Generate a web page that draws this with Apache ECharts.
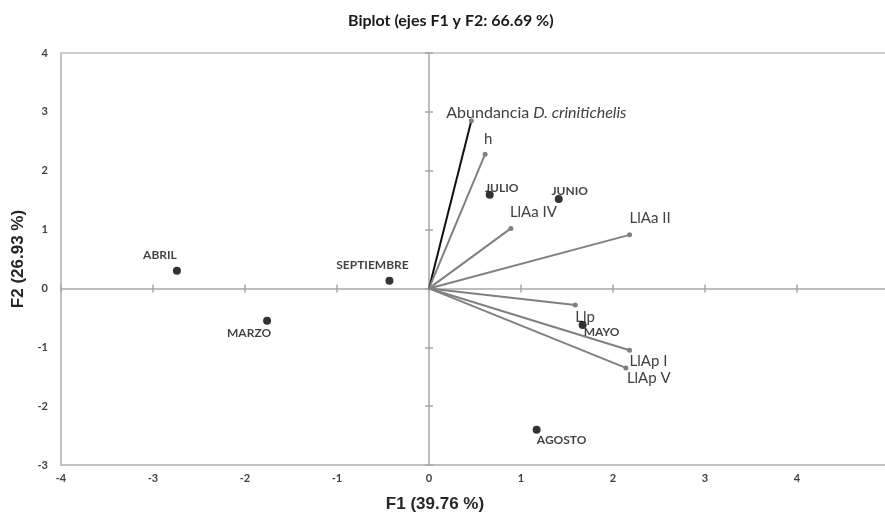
<!DOCTYPE html>
<html>
<head>
<meta charset="utf-8">
<script src="https://cdn.jsdelivr.net/npm/echarts@6/dist/echarts.min.js"></script>
<style>html,body{margin:0;padding:0;background:#fff}#c{width:885px;height:519px}</style>
</head>
<body>
<div id="c"></div>
<script>
// ---- data ----
const vectorNames = ['Abundancia D. crinitichelis', 'h', 'LlAa IV', 'LlAa II', 'Llp', 'LlAp I', 'LlAp V'];
const vectorF1 = [0.46, 0.61, 0.89, 2.18, 1.59, 2.18, 2.14];
const vectorF2 = [2.85, 2.28, 1.02, 0.91, -0.28, -1.05, -1.35];
const monthNames = ['ABRIL', 'MARZO', 'SEPTIEMBRE', 'JULIO', 'JUNIO', 'MAYO', 'AGOSTO'];
const monthF1 = [-2.74, -1.76, -0.43, 0.66, 1.41, 1.67, 1.17];
const monthF2 = [0.30, -0.55, 0.13, 1.59, 1.52, -0.62, -2.40];
const xTicks = [-4, -3, -2, -1, 0, 1, 2, 3, 4, 5];
const yTicks = [-3, -2, -1, 0, 1, 2, 3, 4];
const titleText = 'Biplot (ejes F1 y F2: 66.69 %)';
const xTitle = 'F1 (39.76 %)';
const yTitle = 'F2 (26.93 %)';

// ---- layout / style (not data) ----
const vecLabelOffset = {
  'Abundancia D. crinitichelis': [-25, -8],
  'h': [-1, -15],
  'LlAa IV': [-1, -16],
  'LlAa II': [0, -17],
  'Llp': [0, 12],
  'LlAp I': [0, 11],
  'LlAp V': [1, 10]
};
const monthLabelOffset = {
  'ABRIL': [-17, -16], 'MARZO': [-18, 12], 'SEPTIEMBRE': [-17, -16],
  'JULIO': [12, -7], 'JUNIO': [11, -8], 'MAYO': [19, 7], 'AGOSTO': [25, 10]
};
const FONT = 'Lato';
const xMin = xTicks[0], xMax = xTicks[xTicks.length - 1];
const yMin = yTicks[0], yMax = yTicks[yTicks.length - 1];

const chart = echarts.init(document.getElementById('c'), null, {renderer: 'canvas'});

const baseAxis = (min, max) => ({
  type: 'value', min: min, max: max, interval: 1,
  splitLine: {show: false}
});

const xAxes = [
  Object.assign(baseAxis(xMin, xMax), {
    position: 'bottom',
    name: xTitle, nameLocation: 'middle', nameGap: 31,
    nameTextStyle: {fontFamily: 'Liberation Sans', fontWeight: 'bold', fontSize: 17, color: '#262626', padding: [0, 80, 0, 0]},
    axisLine: {show: true, onZero: false, lineStyle: {color: '#bfbfbf', width: 1.5}},
    axisTick: {show: false},
    axisLabel: {show: true, margin: 8, fontFamily: FONT, fontWeight: 'bold', fontSize: 11, color: '#404040',
      formatter: v => String(v)}
  }),
  Object.assign(baseAxis(xMin, xMax), {
    axisLine: {show: true, onZero: true, onZeroAxisIndex: 0, lineStyle: {color: '#a6a6a6', width: 1.5}},
    axisTick: {show: true, inside: false, length: 4, lineStyle: {color: '#a6a6a6', width: 1.5}},
    axisLabel: {show: false}
  }),
  Object.assign(baseAxis(xMin, xMax), {
    axisLine: {show: false, onZero: true, onZeroAxisIndex: 0},
    axisTick: {show: true, inside: true, length: 4, lineStyle: {color: '#a6a6a6', width: 1.5}},
    axisLabel: {show: false}
  })
];
const yAxes = [
  Object.assign(baseAxis(yMin, yMax), {
    position: 'left',
    name: yTitle, nameLocation: 'middle', nameGap: 28, nameRotate: 90,
    nameTextStyle: {fontFamily: 'Liberation Sans', fontWeight: 'bold', fontSize: 17, color: '#262626'},
    axisLine: {show: true, onZero: false, lineStyle: {color: '#bfbfbf', width: 1.5}},
    axisTick: {show: false},
    axisLabel: {show: true, margin: 13, fontFamily: FONT, fontWeight: 'bold', fontSize: 11, color: '#404040'}
  }),
  Object.assign(baseAxis(yMin, yMax), {
    axisLine: {show: true, onZero: true, onZeroAxisIndex: 0, lineStyle: {color: '#a6a6a6', width: 1.5}},
    axisTick: {show: true, inside: false, length: 4, lineStyle: {color: '#a6a6a6', width: 1.5}},
    axisLabel: {show: false}
  }),
  Object.assign(baseAxis(yMin, yMax), {
    axisLine: {show: false, onZero: true, onZeroAxisIndex: 0},
    axisTick: {show: true, inside: true, length: 4, lineStyle: {color: '#a6a6a6', width: 1.5}},
    axisLabel: {show: false}
  })
];

const vectorSeries = vectorNames.map((name, i) => {
  const isAbund = i === 0;
  const off = vecLabelOffset[name];
  return {
    type: 'line', name: name, xAxisIndex: 0, yAxisIndex: 0,
    animation: false, z: 3,
    symbol: 'circle', symbolSize: 5,
    lineStyle: {color: isAbund ? '#111111' : '#808080', width: 2},
    itemStyle: {color: '#808080'},
    data: [
      {value: [0, 0], symbol: 'none', label: {show: false}},
      {value: [vectorF1[i], vectorF2[i]],
       label: {
         show: true, position: 'inside', offset: off, align: 'left', verticalAlign: 'middle',
         fontFamily: FONT, fontSize: 15, color: '#404040',
         formatter: isAbund ? '{n|Abundancia }{i|D. crinitichelis}' : name,
         rich: isAbund ? {
           n: {fontFamily: FONT, fontSize: 16, color: '#404040'},
           i: {fontFamily: FONT, fontSize: 16, fontStyle: 'italic', color: '#404040'}
         } : undefined
       }}
    ]
  };
});

const pointSeries = {
  type: 'scatter', name: 'meses', xAxisIndex: 0, yAxisIndex: 0,
  animation: false, z: 5,
  symbol: 'circle', symbolSize: 8,
  itemStyle: {color: '#000000'},
  data: monthNames.map((n, i) => ({
    name: n, value: [monthF1[i], monthF2[i]],
    label: {
      show: true, position: 'inside', offset: monthLabelOffset[n], align: 'center', verticalAlign: 'middle',
      formatter: n, fontFamily: FONT, fontWeight: 'bold', fontSize: 12, color: '#111111'
    }
  }))
};

chart.setOption({
  backgroundColor: '#ffffff',
  animation: false,
  title: {
    text: titleText, left: 343, top: 8,
    textStyle: {fontFamily: FONT, fontWeight: 'bold', fontSize: 16, color: '#1a1a1a'}
  },
  grid: {left: 61, top: 53, width: 828, height: 412, show: true, borderColor: '#bfbfbf', borderWidth: 1.5,
    backgroundColor: 'transparent', containLabel: false, outerBoundsMode: 'none'},
  xAxis: xAxes,
  yAxis: yAxes,
  series: vectorSeries.concat([pointSeries])
});
</script>
</body>
</html>
